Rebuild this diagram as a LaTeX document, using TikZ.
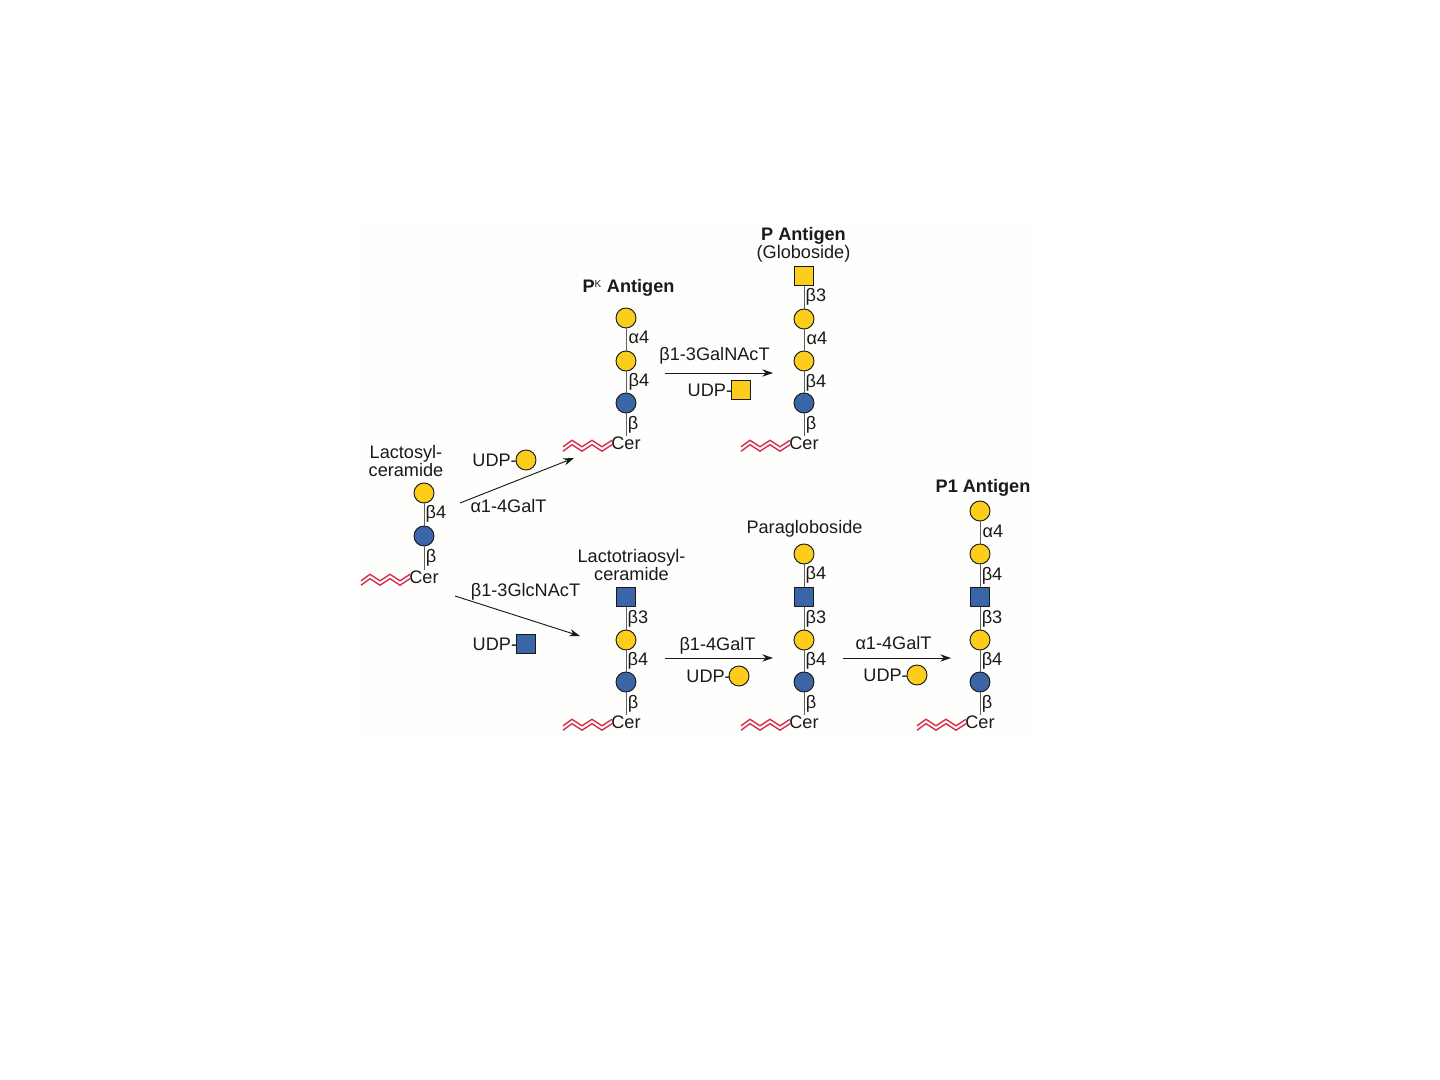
\documentclass[tikz,border=0pt]{standalone}
\usepackage{fontspec}
\setmainfont{Liberation Sans}
\usetikzlibrary{arrows.meta}
\definecolor{galy}{HTML}{FDCD1C}
\definecolor{glcb}{HTML}{3A66A8}
\definecolor{cerred}{HTML}{D62E4E}
\definecolor{ink}{HTML}{1A1A1A}
\definecolor{paper}{HTML}{FEFEFC}
\tikzset{
  x=0.75pt,y=-0.75pt,
  sugar/.style={draw=ink,line width=0.7pt,inner sep=0pt,outer sep=0pt},
  gal/.style={sugar,circle,fill=galy,minimum size=15pt},
  glc/.style={sugar,circle,fill=glcb,minimum size=15pt},
  ysq/.style={sugar,rectangle,fill=galy,minimum size=14.5pt},
  bsq/.style={sugar,rectangle,fill=glcb,minimum size=14.5pt},
  txt/.style={font=\fontsize{13.6}{13.5}\selectfont,text=ink,inner sep=0pt,text height=9.7pt,text depth=0pt},
  lnk/.style={font=\fontsize{13.6}{13.5}\selectfont,text=ink,inner sep=0pt,text height=9.7pt,text depth=0pt},
  ttl/.style={font=\fontsize{13.6}{13.5}\selectfont,text=ink,inner sep=0pt,align=center},
  ttlb/.style={font=\fontsize{13.6}{13.5}\selectfont\bfseries,text=ink,inner sep=0pt,align=center},
  bondline/.style={draw=ink!70,line width=0.65pt},
  rxn/.style={draw=ink,line width=0.7pt,-{Stealth[length=8pt,width=5.5pt]}},
  lipid/.style={draw=cerred,line width=1.05pt,line join=miter},
  udp/.style={txt,anchor=east,xshift=0.75pt}
}
\newcommand{\lipidwave}[2]{%
  \foreach \dy in {-2.2,2.2}{%
    \draw[lipid] (#1-63,#2+4+\dy) -- ++(9,-6.5) -- ++(10,6.5) -- ++(10,-6.5) -- ++(10,6.5) -- ++(10,-6.5);
  }}
\begin{document}
\begin{tikzpicture}
\useasboundingbox (0,0) rectangle (1440,1080);
\fill[white] (0,0) rectangle (1440,1080);
\fill[paper] (360,225) rectangle (1030,740);

% Lactosylceramide
\node[ttl] (tA) at (406,461) {Lactosyl-\\ceramide};
\node[gal] (a1) at (424,493) {};
\node[glc] (a2) at (424,536) {};
\node[txt] (aC) at (424,577) {Cer};
\draw[bondline] (a1) -- (a2);
\draw[bondline] (a2) -- (aC);
\node[lnk] (la1) at (436,512) {β4};
\node[lnk] (la2) at (431,556) {β};
\lipidwave{424}{579}

% Pk antigen
\node[ttlb] (tB) at (628.5,288) {P\raisebox{3.6pt}{\fontsize{7.5}{7.5}\selectfont\mdseries K}\hspace{0.5pt} Antigen};
\node[gal] (b1) at (626,318) {};
\node[gal] (b2) at (626,361) {};
\node[glc] (b3) at (626,403) {};
\node[txt] (bC) at (626,443) {Cer};
\draw[bondline] (b1) -- (b2);
\draw[bondline] (b2) -- (b3);
\draw[bondline] (b3) -- (bC);
\node[lnk] (lb1) at (639,337) {α4};
\node[lnk] (lb2) at (639,380) {β4};
\node[lnk] (lb3) at (633,423) {β};
\lipidwave{626}{445}

% P antigen
\node[ttl] (tC) at (803.5,245) {\textbf{P Antigen}\\(Globoside)};
\node[ysq] (c0) at (804,276) {};
\node[gal] (c1) at (804,319) {};
\node[gal] (c2) at (804,361) {};
\node[glc] (c3) at (804,403) {};
\node[txt] (cC) at (804,443) {Cer};
\draw[bondline] (c0) -- (c1);
\draw[bondline] (c1) -- (c2);
\draw[bondline] (c2) -- (c3);
\draw[bondline] (c3) -- (cC);
\node[lnk] (lc0) at (816,295) {β3};
\node[lnk] (lc1) at (817,338) {α4};
\node[lnk] (lc2) at (816,381) {β4};
\node[lnk] (lc3) at (811,423) {β};
\lipidwave{804}{445}

% Lactotriaosylceramide
\node[ttl] (tD) at (631.5,565) {Lactotriaosyl-\\ceramide};
\node[bsq] (d0) at (626,597) {};
\node[gal] (d1) at (626,640) {};
\node[glc] (d2) at (626,682) {};
\node[txt] (dC) at (626,722) {Cer};
\draw[bondline] (d0) -- (d1);
\draw[bondline] (d1) -- (d2);
\draw[bondline] (d2) -- (dC);
\node[lnk] (ld0) at (638,617) {β3};
\node[lnk] (ld1) at (638,659) {β4};
\node[lnk] (ld2) at (633,702) {β};
\lipidwave{626}{724}

% Paragloboside
\node[ttl] (tE) at (804.5,529) {Paragloboside};
\node[gal] (e0) at (804,554) {};
\node[bsq] (e1) at (804,597) {};
\node[gal] (e2) at (804,640) {};
\node[glc] (e3) at (804,682) {};
\node[txt] (eC) at (804,722) {Cer};
\draw[bondline] (e0) -- (e1);
\draw[bondline] (e1) -- (e2);
\draw[bondline] (e2) -- (e3);
\draw[bondline] (e3) -- (eC);
\node[lnk] (le0) at (816,573) {β4};
\node[lnk] (le1) at (816,617) {β3};
\node[lnk] (le2) at (816,659) {β4};
\node[lnk] (le3) at (811,702) {β};
\lipidwave{804}{724}

% P1 antigen
\node[ttlb] (tF) at (983,488) {P1 Antigen};
\node[gal] (f0) at (980,511) {};
\node[gal] (f1) at (980,554) {};
\node[bsq] (f2) at (980,597) {};
\node[gal] (f3) at (980,640) {};
\node[glc] (f4) at (980,682) {};
\node[txt] (fC) at (980,722) {Cer};
\draw[bondline] (f0) -- (f1);
\draw[bondline] (f1) -- (f2);
\draw[bondline] (f2) -- (f3);
\draw[bondline] (f3) -- (f4);
\draw[bondline] (f4) -- (fC);
\node[lnk] (lf0) at (993,531) {α4};
\node[lnk] (lf1) at (992,574) {β4};
\node[lnk] (lf2) at (992,617) {β3};
\node[lnk] (lf3) at (992,659) {β4};
\node[lnk] (lf4) at (987,702) {β};
\lipidwave{980}{724}

% Reactions
\coordinate (r1s) at (460,503); \coordinate (r1e) at (574,458);
\draw[rxn] (r1s) -- (r1e);
\node[gal] (u1) at (526,460) {};
\node[udp] (u1t) at (u1.west) {UDP-};
\node[txt] (e1t) at (508.5,506) {α1-4GalT};

\coordinate (r2s) at (455,596); \coordinate (r2e) at (580,636);
\draw[rxn] (r2s) -- (r2e);
\node[txt] (e2t) at (525.5,590) {β1-3GlcNAcT};
\node[bsq] (u2) at (526,644) {};
\node[udp] (u2t) at (u2.west) {UDP-};

\coordinate (r3s) at (665,373); \coordinate (r3e) at (773,373);
\draw[rxn] (r3s) -- (r3e);
\node[txt] (e3t) at (714.5,354) {β1-3GalNAcT};
\node[ysq] (u3) at (741,390) {};
\node[udp] (u3t) at (u3.west) {UDP-};

\coordinate (r4s) at (665,658); \coordinate (r4e) at (773,658);
\draw[rxn] (r4s) -- (r4e);
\node[txt] (e4t) at (717.5,644) {β1-4GalT};
\node[gal] (u4) at (739,676) {};
\node[udp,xshift=0.75pt] (u4t) at (u4.west) {UDP-};

\coordinate (r5s) at (843,658); \coordinate (r5e) at (951,658);
\draw[rxn] (r5s) -- (r5e);
\node[txt] (e5t) at (893.5,643) {α1-4GalT};
\node[gal] (u5) at (917,675) {};
\node[udp] (u5t) at (u5.west) {UDP-};
\end{tikzpicture}
\end{document}
